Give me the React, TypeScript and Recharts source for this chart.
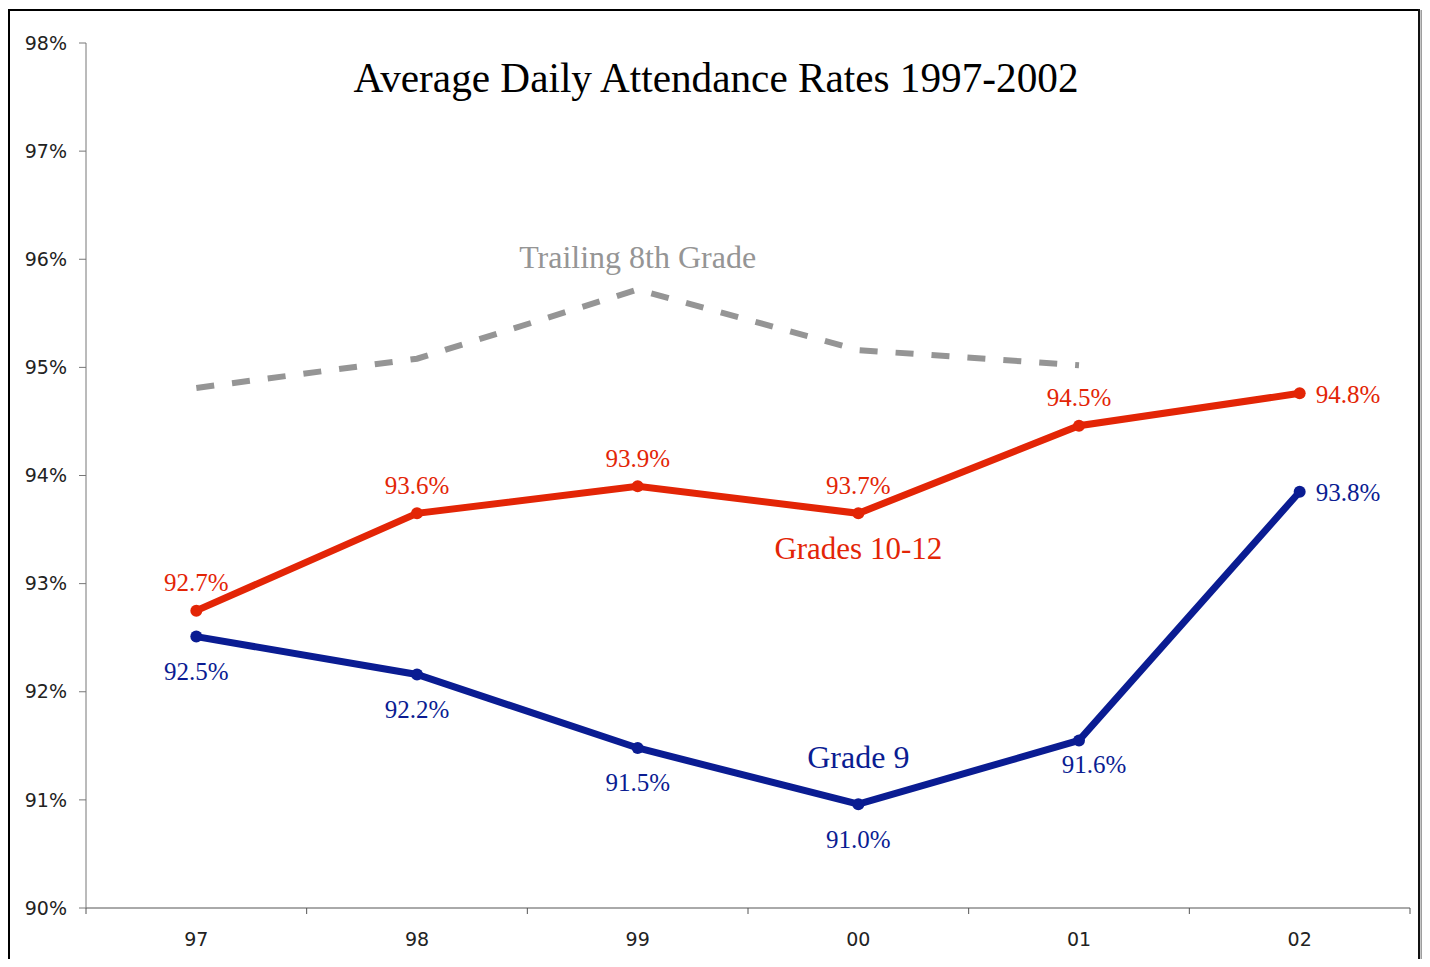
import React from 'react';
import { ComposedChart, Line, XAxis, YAxis, LabelList } from 'recharts';

const years = ['97', '98', '99', '00', '01', '02'];
const grades10to12 = [92.75, 93.65, 93.9, 93.65, 94.46, 94.76];
const grades10to12Labels = ['92.7%', '93.6%', '93.9%', '93.7%', '94.5%', '94.8%'];
const grade9 = [92.51, 92.16, 91.48, 90.96, 91.55, 93.85];
const grade9Labels = ['92.5%', '92.2%', '91.5%', '91.0%', '91.6%', '93.8%'];
const trailing8th = [94.81, 95.08, 95.72, 95.16, 95.02, null];
const yTicks = [90, 91, 92, 93, 94, 95, 96, 97, 98];

const data = years.map((y, i) => ({
  year: y,
  g1012: grades10to12[i],
  g9: grade9[i],
  t8: trailing8th[i],
}));

const RED = '#e32506';
const BLUE = '#0a1c92';
const GRAY = '#959595';
const SERIF = '"Liberation Serif", "DejaVu Serif", serif';
const SANS = '"DejaVu Sans", Verdana, sans-serif';

const redPos = ['top', 'top', 'top', 'top', 'top', 'right'];
const bluePos = ['bottom', 'bottom', 'bottom', 'bottom', 'bottomRight', 'right'];

const X_TICK_SIZE = 6;
const X_TICK_MARGIN = 19;

function makeLabel(
  labels: (string | null)[],
  pos: string[],
  color: string,
  nameIdx: number,
  name: string,
  nameDy: number,
  nameSize: number
) {
  return (props: any) => {
    const vb = props.viewBox ?? {};
    const x = vb.x ?? props.x;
    const y = vb.y ?? props.y;
    const i = props.index;
    if (x == null || y == null) return null;
    const out: any[] = [];
    const txt = labels[i];
    if (txt) {
      const p = pos[i];
      let tx = x, ty = y, anchor = 'middle';
      if (p === 'top') ty = y - 28;
      else if (p === 'bottom') ty = y + 35;
      else if (p === 'bottomRight') { tx = x + 15; ty = y + 24; }
      else { tx = x + 16; ty = y + 1; anchor = 'start'; }
      out.push(
        <text key="v" x={tx} y={ty} textAnchor={anchor} dominantBaseline="central"
          fill={color} fontFamily={SERIF} fontSize={25}>{txt}</text>
      );
    }
    if (i === nameIdx) {
      out.push(
        <text key="n" x={x} y={y + nameDy} textAnchor="middle" dominantBaseline="central"
          fill={color} fontFamily={SERIF} fontSize={nameSize}>{name}</text>
      );
    }
    return <g>{out}</g>;
  };
}

const noLabels: (string | null)[] = [null, null, null, null, null, null];

const XTick = (props: any) => {
  const { x, y, payload, index, width, visibleTicksCount } = props;
  const band = width / visibleTicksCount;
  const axisY = y - X_TICK_SIZE - X_TICK_MARGIN;
  const lines = [x - band / 2];
  if (index === visibleTicksCount - 1) lines.push(x + band / 2);
  return (
    <g>
      {lines.map((lx, k) => (
        <line key={k} x1={lx} x2={lx} y1={axisY} y2={axisY + X_TICK_SIZE} stroke="#555" strokeWidth={1} />
      ))}
      <text x={x} y={y} dy="0.71em" textAnchor="middle" fill="#222" fontFamily={SANS} fontSize={19}>
        {payload.value}
      </text>
    </g>
  );
};

const W = 1414;
const H = 951;

export default function App() {
  return (
    <div style={{ position: 'relative', width: W, height: H, background: '#fff', overflow: 'hidden' }}>
      <div style={{ position: 'absolute', left: 0, top: 2 }}>
        <ComposedChart width={1414} height={945} data={data}
          margin={{ top: 33, right: 12, bottom: 7, left: 0 }}>
          <XAxis dataKey="year" type="category" scale="band" height={40}
            axisLine={{ stroke: '#555' }} tickLine={false} tickSize={X_TICK_SIZE} tickMargin={X_TICK_MARGIN}
            tick={<XTick />} interval={0} />
          <YAxis domain={[90, 98]} ticks={yTicks} width={78} tickSize={7} tickMargin={12}
            tickFormatter={(v: number) => `${v}%`} axisLine={{ stroke: '#777' }} tickLine={{ stroke: '#777' }}
            tick={{ fill: '#222', fontFamily: SANS, fontSize: 19 }} interval={0} />
          <Line dataKey="t8" stroke={GRAY} strokeWidth={6} strokeDasharray="18 18"
            dot={false} activeDot={false} isAnimationActive={false} connectNulls={false}>
            <LabelList dataKey="t8" content={makeLabel(noLabels, redPos, GRAY, 2, 'Trailing 8th Grade', -33, 32)} />
          </Line>
          <Line dataKey="g1012" stroke={RED} strokeWidth={7}
            dot={{ r: 6, fill: RED, stroke: RED, strokeWidth: 0 }} activeDot={false} isAnimationActive={false}>
            <LabelList dataKey="g1012" content={makeLabel(grades10to12Labels, redPos, RED, 3, 'Grades 10-12', 35, 31)} />
          </Line>
          <Line dataKey="g9" stroke={BLUE} strokeWidth={7}
            dot={{ r: 6, fill: BLUE, stroke: BLUE, strokeWidth: 0 }} activeDot={false} isAnimationActive={false}>
            <LabelList dataKey="g9" content={makeLabel(grade9Labels, bluePos, BLUE, 3, 'Grade 9', -47, 32)} />
          </Line>
        </ComposedChart>
      </div>
      <svg width={W} height={H} style={{ position: 'absolute', left: 0, top: 0, pointerEvents: 'none' }}>
        <text x={708} y={84} textAnchor="middle" fontFamily={SERIF} fontSize={42}
          textLength={725} lengthAdjust="spacingAndGlyphs" fill="#000">
          Average Daily Attendance Rates 1997-2002
        </text>
        <line x1={1} x2={1} y1={1} y2={H} stroke="#000" strokeWidth={2} />
        <line x1={0} x2={1412} y1={2} y2={2} stroke="#000" strokeWidth={2} />
        <line x1={1411} x2={1411} y1={1} y2={H} stroke="#111" strokeWidth={2} />
        <line x1={1413.2} x2={1413.2} y1={2} y2={H} stroke="#999" strokeWidth={1.5} />
      </svg>
    </div>
  );
}
